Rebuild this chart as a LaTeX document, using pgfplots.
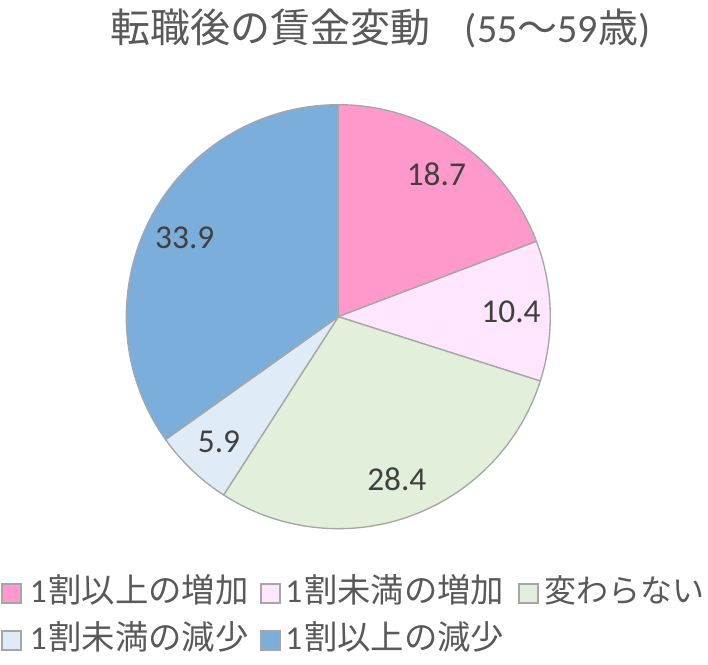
\documentclass[border=0pt]{standalone}
\usepackage{fontspec}
\setmainfont{Carlito}
\newfontfamily\cjk{Noto Sans CJK JP}
\usepackage{etoolbox}
\usepackage{pgfplots}
\usepackage{pgfplotstable}
\pgfplotsset{compat=1.18}

\definecolor{c1}{HTML}{FF99CC}
\definecolor{c2}{HTML}{FFE6FF}
\definecolor{c3}{HTML}{E2EFDA}
\definecolor{c4}{HTML}{DFECF7}
\definecolor{c5}{HTML}{7CAEDC}
\definecolor{edge}{HTML}{A6A6A6}
\definecolor{titlegray}{HTML}{595959}
\definecolor{numgray}{HTML}{404040}

% slices clockwise from 12 o'clock
\pgfplotstableread{
value colour
18.7  c1
10.4  c2
28.4  c3
5.9   c4
33.9  c5
}\piedata

% pie centre and radius in pixels of the 708x665 frame
\def\cx{338.3}
\def\cy{348.3}
\def\rad{212}

\begin{document}
\begin{tikzpicture}
\useasboundingbox (0,0) rectangle (531pt,498.75pt);

% build the slices from the table
\pgfplotstablegetrowsof{\piedata}
\pgfmathtruncatemacro\lastrow{\pgfplotsretval-1}
\def\total{0}
\pgfplotsforeachungrouped \i in {0,...,\lastrow}{%
  \pgfplotstablegetelem{\i}{value}\of\piedata
  \pgfmathsetmacro\total{\total+\pgfplotsretval}%
}
\def\startang{90}
\def\slices{}
\def\labels{}
\pgfplotsforeachungrouped \i in {0,...,\lastrow}{%
  \pgfplotstablegetelem{\i}{value}\of\piedata
  \let\v\pgfplotsretval
  \pgfplotstablegetelem{\i}{colour}\of\piedata
  \let\c\pgfplotsretval
  \pgfmathsetmacro\endang{\startang-\v/\total*360}%
  \pgfmathsetmacro\midang{(\startang+\endang)/2}%
  \pgfmathsetmacro\lx{\cx+0.815*\rad*cos(\midang)}%
  \pgfmathsetmacro\ly{\cy+0.815*\rad*sin(\midang)}%
  \xappto\slices{\noexpand\fill[\c, draw=edge, line width=1pt, line join=round]
    (axis cs:\cx,\cy) -- ++(\startang:\rad*0.75pt)
    arc[start angle=\startang, end angle=\endang, radius=\rad*0.75pt] -- cycle;}%
  \xappto\labels{\noexpand\node[text=numgray, font=\noexpand\fontsize{25}{30}\noexpand\selectfont, inner sep=0pt]
    at (axis cs:\lx,\ly) {\v};}%
  \global\let\startang\endang
}

\begin{axis}[
    x=0.75pt, y=0.75pt,
    xmin=0, xmax=708, ymin=0, ymax=665,
    hide axis, clip=false,
]
\slices
\labels

% title
\node[anchor=base west, inner sep=0pt, text=titlegray,
      font=\fontsize{30}{36}\selectfont]
  at (axis cs:110,622) {{\cjk 転職後の賃金変動}\hspace{26pt}(55{\cjk 〜}59{\cjk 歳})};

% legend
\tikzset{lg/.style={draw=edge, line width=0.8pt},
         lt/.style={anchor=base west, inner sep=0pt, text=titlegray,
                    font=\fontsize{25}{30}\selectfont}}
\fill[c1, lg] (axis cs:2,62) rectangle (axis cs:21,81);
\node[lt] at (axis cs:29.5,62) {1\kern1.5pt{\cjk 割以上の増加}};
\fill[c2, lg] (axis cs:261,62) rectangle (axis cs:280,81);
\node[lt] at (axis cs:285,62) {1\kern1.5pt{\cjk 割未満の増加}};
\fill[c3, lg] (axis cs:519,62) rectangle (axis cs:538,81);
\node[lt, font=\fontsize{24}{30}\selectfont] at (axis cs:544,62) {{\cjk 変わらない}};
\fill[c4, lg] (axis cs:2,15) rectangle (axis cs:21,34);
\node[lt] at (axis cs:29.5,15) {1\kern1.5pt{\cjk 割未満の減少}};
\fill[c5, lg] (axis cs:261,15) rectangle (axis cs:280,34);
\node[lt] at (axis cs:285,15) {1\kern1.5pt{\cjk 割以上の減少}};
\end{axis}
\end{tikzpicture}
\end{document}
